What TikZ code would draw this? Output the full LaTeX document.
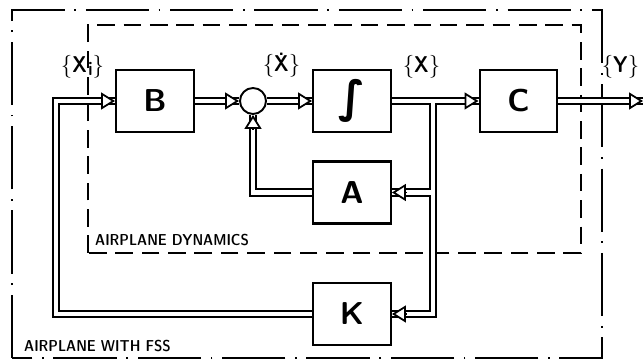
\documentclass[tikz,border=0pt]{standalone}
\usepackage{fontspec}
\newfontfamily\intfont{DejaVu Sans}
\usetikzlibrary{arrows.meta}
\tikzset{
  blk/.style={draw, line width=1.4pt, minimum width=1.55cm, minimum height=1.24cm, font=\sffamily\bfseries\fontsize{18}{20}\selectfont},
  dbl/.style={draw, line width=1.1pt, double=white, double distance=2.8pt},
  tip/.style={line width=1pt, -{Triangle[length=0.28cm, width=0.34cm, fill=white]}},
  lbl/.style={font=\sffamily\fontseries{sbc}\fontsize{13}{15}\selectfont},
  note/.style={font=\sffamily\fontseries{sbc}\fontsize{9}{11}\selectfont, anchor=west},
}
\begin{document}
\begin{tikzpicture}
\useasboundingbox (0,0) rectangle (12.88,7.2);
% frames
\draw[line width=0.6pt, dash pattern=on 36pt off 5.5pt on 1pt off 5.5pt] (0.24,0.04) rectangle (12.04,7.0);
\draw[line width=0.7pt, dash pattern=on 10pt off 5pt] (1.76,2.14) rectangle (11.62,6.7);
\node[note] (dyn) at (1.78,2.4) {AIRPLANE DYNAMICS};
\node[note] (fss) at (0.36,0.27) {AIRPLANE WITH FSS};
% blocks
\node[blk] (B) at (3.1,5.18) {B};
\node[draw, circle, line width=1.1pt, minimum size=0.52cm] (sum) at (5.06,5.18) {};
\node[blk] (int) at (7.04,5.18) {\intfont\bfseries\itshape\fontsize{25}{28}\selectfont ∫};
\node[blk] (C) at (10.37,5.18) {C};
\node[blk] (A) at (7.04,3.35) {A};
\node[blk] (K) at (7.04,0.92) {K};
\coordinate (br) at (8.66,5.18);
\coordinate (fb) at (1.12,3);
\coordinate (out) at (12.86,5.18);
% signal labels
\node[lbl] (xi) at (1.65,5.86) {\{X\kern0.8pt{\fontsize{11}{12}\selectfont\raisebox{-0.3ex}{i}}\}};
\node[lbl] (xdot) at (5.63,5.88) {\{\ooalign{X\cr\hidewidth\raisebox{0.72em}{.}\hidewidth\cr}\}};
\node[lbl] (x) at (8.43,5.86) {\{X\}};
\node[lbl] (y) at (12.41,5.86) {\{Y\}};
% connectors
\draw[dbl] (K.west) -| (fb) |- (B.west);
\draw[dbl] (B.east) -- (sum.west);
\draw[dbl] (sum.east) -- (int.west);
\draw[dbl] (A.west) -| (sum.south);
\draw[dbl] (int.east) -- (C.west) (br) |- (K.east) (br |- A.east) -- (A.east);
\draw[dbl] (C.east) -- (out);
% arrow tips
\foreach \p in {B.west, sum.west, int.west, C.west, out}
  \draw[tip] ([xshift=-0.28cm]\p) -- (\p);
\foreach \p in {A.east, K.east}
  \draw[tip] ([xshift=0.28cm]\p) -- (\p);
\draw[tip] ([yshift=-0.28cm]sum.south) -- (sum.south);
\end{tikzpicture}
\end{document}
